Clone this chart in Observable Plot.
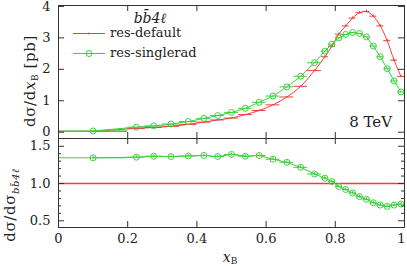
<!DOCTYPE html>
<html><head><meta charset="utf-8">
<script src="https://cdn.jsdelivr.net/npm/d3@7"></script>
<script src="https://cdn.jsdelivr.net/npm/@observablehq/plot@0.6"></script>
<style>
body{margin:0;background:#fff;}
#c{position:relative;width:407px;height:266px;font-family:"DejaVu Serif";}
#c svg{position:absolute;left:0;background:none;overflow:visible;}
</style></head><body><div id="c"></div>
<script>
// bins of x_B
const binLo = [0,0.2,0.25,0.3,0.35,0.4,0.44,0.48,0.52,0.56,0.6,0.64,0.68,0.72,0.76,0.78,0.8,0.82,0.84,0.86,0.88,0.9,0.92,0.94,0.96,0.98];
const binHi = [0.2,0.25,0.3,0.35,0.4,0.44,0.48,0.52,0.56,0.6,0.64,0.68,0.72,0.76,0.78,0.8,0.82,0.84,0.86,0.88,0.9,0.92,0.94,0.96,0.98,1.0];
// dσ/dx_B [pb]
const resDefault   = [0.03,0.12,0.15,0.19,0.25,0.32,0.39,0.45,0.56,0.69,0.87,1.12,1.46,1.96,2.40,2.73,3.12,3.38,3.63,3.80,3.84,3.69,3.38,2.91,2.29,1.77];
const resSinglerad = [0.04,0.16,0.20,0.26,0.34,0.44,0.53,0.63,0.76,0.95,1.15,1.44,1.78,2.21,2.58,2.80,3.00,3.11,3.17,3.14,3.03,2.74,2.40,2.02,1.63,1.28];
const defaultErr   = [0.005,0.005,0.005,0.005,0.01,0.01,0.01,0.01,0.01,0.015,0.015,0.02,0.02,0.025,0.03,0.03,0.035,0.035,0.04,0.04,0.04,0.04,0.04,0.04,0.04,0.035];
// ratio to bb4l (res-default)
const ratioSinglerad = [1.345,1.353,1.366,1.362,1.37,1.376,1.362,1.39,1.366,1.376,1.326,1.285,1.217,1.128,1.073,1.027,0.96,0.92,0.874,0.824,0.788,0.742,0.711,0.693,0.711,0.725];
const ratioErr = [0.02,0.02,0.02,0.02,0.02,0.02,0.02,0.02,0.02,0.02,0.02,0.02,0.02,0.02,0.02,0.02,0.02,0.02,0.02,0.02,0.02,0.02,0.02,0.02,0.02,0.02];
const xTickVals = [0,0.2,0.4,0.6,0.8];
const xLastTick = [1];
const xInnerTicks = [0.2,0.4,0.6,0.8];
const yTicksTop = [0,1,2,3,4];
const yTicksBottom = [0.5,1.0,1.5];
const yMinorBottom = [0.6,0.7,0.8,0.9,1.1,1.2,1.3,1.4];

const RED = "#f23c3c", GREEN = "#3cd23c", INK = "#333";
const rows = binLo.map((lo,i)=>({lo, hi: binHi[i], mid:(lo+binHi[i])/2,
  red: resDefault[i], rErr: defaultErr[i], green: resSinglerad[i],
  ratio: ratioSinglerad[i], gErr: ratioErr[i]}));

const W = 407, ML = 58, MR = 3, PW = W-ML-MR;
const font = {fontFamily:"DejaVu Serif", fontSize:"13px", background:"none", overflow:"visible"};

// ---------- top panel ----------
const topH = 140, topMT = 5, topMB = 2, topPH = topH-topMT-topMB;
const topPlot = Plot.plot({
  width: W, height: topH, marginLeft: ML, marginRight: MR, marginTop: topMT, marginBottom: topMB,
  style: font,
  x: {domain:[0,1], axis:null},
  y: {domain:[-0.2,4.03], axis:null},
  marks: [
    Plot.line(rows, {x:"mid", y:"red", stroke:RED, strokeWidth:1, curve:"catmull-rom"}),
    Plot.ruleY(rows, {y:"red", x1:"lo", x2:"hi", stroke:RED, strokeWidth:1}),
    Plot.ruleX(rows, {x:"mid", y1:d=>d.red-d.rErr, y2:d=>d.red+d.rErr, stroke:RED, strokeWidth:1}),
    Plot.line(rows, {x:"mid", y:"green", stroke:GREEN, strokeWidth:1}),
    Plot.ruleY(rows, {y:"green", x1:"lo", x2:"hi", stroke:GREEN, strokeWidth:1}),
    Plot.dot(rows, {x:"mid", y:"green", r:3, stroke:GREEN, fill:"none", strokeWidth:1}),
    Plot.tickX(xInnerTicks, {x:d=>d, insetTop: topPH-6, stroke:INK}),
    Plot.tickX(xInnerTicks, {x:d=>d, insetBottom: topPH-6, stroke:INK}),
    Plot.tickY(yTicksTop, {y:d=>d, insetRight: PW-6, stroke:INK}),
    Plot.tickY(yTicksTop, {y:d=>d, insetLeft: PW-6, stroke:INK}),
    Plot.axisY(yTicksTop, {tickSize:0, tickPadding:8, fontSize:13, color:"#222", label:null, tickFormat:d=>String(d)}),
    Plot.frame({stroke:INK, strokeWidth:1})
  ]
});
topPlot.style.top = "0px";

// ---------- bottom panel ----------
const botTop = 137, botH = 129, botMT = 1, botMB = 39, botPH = botH-botMT-botMB;
const botPlot = Plot.plot({
  width: W, height: botH, marginLeft: ML, marginRight: MR, marginTop: botMT, marginBottom: botMB,
  style: font,
  x: {domain:[0,1], axis:null},
  y: {domain:[0.41,1.604], axis:null},
  marks: [
    Plot.ruleY([1], {stroke:RED, strokeWidth:1.6}),
    Plot.line(rows, {x:"mid", y:"ratio", stroke:GREEN, strokeWidth:1}),
    Plot.ruleY(rows, {y:"ratio", x1:"lo", x2:"hi", stroke:GREEN, strokeWidth:1}),
    Plot.ruleX(rows, {x:"mid", y1:d=>d.ratio-d.gErr, y2:d=>d.ratio+d.gErr, stroke:GREEN, strokeWidth:1}),
    Plot.dot(rows, {x:"mid", y:"ratio", r:3, stroke:GREEN, fill:"none", strokeWidth:1}),
    Plot.tickX(xInnerTicks, {x:d=>d, insetTop: botPH-6, stroke:INK}),
    Plot.tickX(xInnerTicks, {x:d=>d, insetBottom: botPH-6, stroke:INK}),
    Plot.tickY(yTicksBottom, {y:d=>d, insetRight: PW-6, stroke:INK}),
    Plot.tickY(yTicksBottom, {y:d=>d, insetLeft: PW-6, stroke:INK}),
    Plot.tickY(yMinorBottom, {y:d=>d, insetRight: PW-3, stroke:INK}),
    Plot.tickY(yMinorBottom, {y:d=>d, insetLeft: PW-3, stroke:INK}),
    Plot.axisY(yTicksBottom, {tickSize:0, tickPadding:8, fontSize:13, color:"#222", label:null, tickFormat:d=>d.toFixed(1)}),
    Plot.axisX(xTickVals, {tickSize:0, tickPadding:6, fontSize:13, color:"#222", label:null, tickFormat:d=>String(d)}),
    Plot.axisX(xLastTick, {tickSize:0, tickPadding:6, fontSize:13, color:"#222", label:null, tickFormat:d=>String(d), dx:-3}),
    Plot.frame({stroke:INK, strokeWidth:1})
  ]
});
botPlot.style.top = botTop + "px";

const c = document.getElementById("c");
c.appendChild(topPlot);
c.appendChild(botPlot);

// ---------- annotations (top svg) ----------
const ts = d3.select(topPlot);
const g = ts.append("g").attr("font-family","DejaVu Serif").attr("fill","#222").attr("text-anchor","start");
g.append("text").attr("x",150).attr("y",23).attr("text-anchor","middle")
  .attr("font-size",14).attr("font-style","italic").text("bb\u03044\u2113");
g.append("line").attr("x1",73).attr("x2",105).attr("y1",33.5).attr("y2",33.5).attr("stroke",RED);
g.append("line").attr("x1",89).attr("x2",89).attr("y1",32.5).attr("y2",34.5).attr("stroke",RED);
g.append("text").attr("x",110).attr("y",37).attr("text-anchor","start").attr("font-size",13).text("res-default");
g.append("line").attr("x1",73).attr("x2",105).attr("y1",53.5).attr("y2",53.5).attr("stroke",GREEN);
g.append("circle").attr("cx",89).attr("cy",53.5).attr("r",3).attr("fill","none").attr("stroke",GREEN);
g.append("text").attr("x",110).attr("y",57).attr("text-anchor","start").attr("font-size",13).text("res-singlerad");
g.append("text").attr("x",392).attr("y",127).attr("text-anchor","end").attr("font-size",15).text("8 TeV");
const yl = g.append("text").attr("transform","translate(35,81) rotate(-90)").attr("text-anchor","middle")
  .attr("font-size",15).attr("letter-spacing","0.6");
yl.append("tspan").text("d\u03c3/d");
yl.append("tspan").attr("font-style","italic").text("x");
yl.append("tspan").attr("font-size",9).attr("dy",3).text("B");
yl.append("tspan").attr("dy",-3).text(" [pb]");

// ---------- annotations (bottom svg) ----------
const bs = d3.select(botPlot);
const g2 = bs.append("g").attr("font-family","DejaVu Serif").attr("fill","#222");
const yl2 = g2.append("text").attr("transform",`translate(15,${205-botTop}) rotate(-90)`).attr("text-anchor","middle")
  .attr("font-size",15).attr("letter-spacing","0.6");
yl2.append("tspan").text("d\u03c3/d\u03c3");
yl2.append("tspan").attr("font-size",10).attr("font-style","italic").attr("dy",4).text("bb\u03044\u2113");
const xl = g2.append("text").attr("x",230).attr("y",262-botTop).attr("text-anchor","middle").attr("font-size",14);
xl.append("tspan").attr("font-style","italic").text("x");
xl.append("tspan").attr("font-size",9).attr("dy",2).text("B");
</script></body></html>
